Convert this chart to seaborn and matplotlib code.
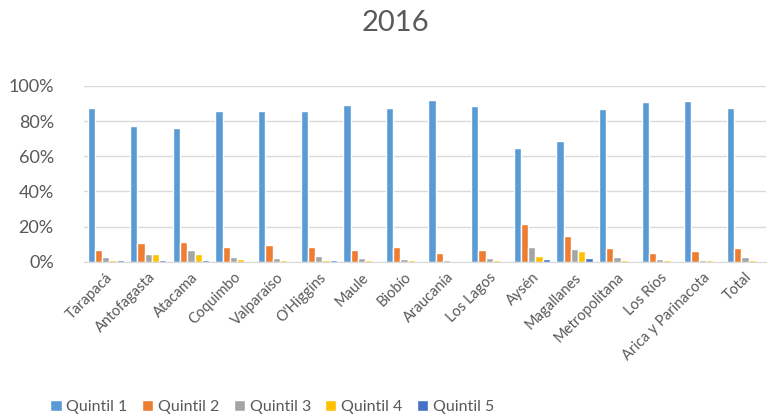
import pandas as pd
import numpy as np
import seaborn as sns
import matplotlib.pyplot as plt

regiones = ['Tarapacá', 'Antofagasta', 'Atacama', 'Coquimbo', 'Valparaíso', "O'Higgins",
            'Maule', 'Biobío', 'Araucanía', 'Los Lagos', 'Aysén', 'Magallanes',
            'Metropolitana', 'Los Ríos', 'Arica y Parinacota', 'Total']
quintiles = ['Quintil 1', 'Quintil 2', 'Quintil 3', 'Quintil 4', 'Quintil 5']

# porcentajes por quintil
q1 = [87.3, 77.4, 75.9, 85.6, 86.0, 85.8, 89.0, 87.3, 92.0, 88.8, 64.5, 68.9, 86.7, 91.1, 91.5, 87.3]
q2 = [6.6, 11.0, 11.4, 8.5, 9.5, 8.2, 6.8, 8.2, 5.3, 6.6, 21.8, 14.8, 8.0, 5.3, 5.9, 8.0]
q3 = [2.8, 4.4, 6.6, 2.8, 2.3, 3.4, 2.3, 1.9, 0.8, 2.3, 8.2, 7.2, 2.8, 1.9, 0.8, 2.5]
q4 = [0.9, 4.7, 4.2, 1.5, 1.3, 0.9, 0.9, 0.9, 0.6, 0.9, 3.4, 6.1, 0.9, 0.9, 0.8, 1.1]
q5 = [0.8, 1.3, 0.9, 0.6, 0.6, 0.9, 0.4, 0.4, 0.4, 0.4, 1.5, 2.3, 0.4, 0.4, 0.4, 0.6]

colores = ['#5B9BD5', '#ED7D31', '#A5A5A5', '#FFC000', '#4472C4']

df = pd.DataFrame({'region': regiones, 'Quintil 1': q1, 'Quintil 2': q2,
                   'Quintil 3': q3, 'Quintil 4': q4, 'Quintil 5': q5})
long_df = df.melt(id_vars='region', var_name='quintil', value_name='pct')

sns.set_style('white')
plt.rcParams['font.family'] = ['Lato', 'DejaVu Sans']
gris = '#595959'

fig = plt.figure(figsize=(7.67, 4.19), dpi=100)
ax = fig.add_axes([0.110, 0.375, 0.889, 0.42])

sns.barplot(data=long_df, x='region', y='pct', hue='quintil', hue_order=quintiles,
            palette=colores, width=0.85, saturation=1, ax=ax, legend=True)

ax.set_ylim(0, 100)
ax.set_xlim(-0.5, len(regiones) - 0.5)
ax.set_yticks(np.arange(0, 101, 20))
ax.set_yticklabels([f'{v}%' for v in range(0, 101, 20)], fontsize=13, color=gris)
ax.set_xticks(range(len(regiones)))
ax.set_xticklabels(regiones, rotation=45, ha='right', rotation_mode='anchor',
                   fontsize=10.5, color=gris)
ax.tick_params(axis='y', length=0, pad=22)
ax.tick_params(axis='x', length=0, pad=6)
ax.set_xlabel('')
ax.set_ylabel('')
ax.grid(axis='y', color='#D9D9D9', linewidth=1)
ax.set_axisbelow(True)
for s in ['top', 'right', 'left']:
    ax.spines[s].set_visible(False)
ax.spines['bottom'].set_color('#D9D9D9')

fig.text(0.515, 0.945, '2016', ha='center', va='center', fontsize=21, color=gris)

handles, labels = ax.get_legend_handles_labels()
ax.get_legend().remove()
fig.legend(handles, labels, loc='center', bbox_to_anchor=(0.355, 0.028), ncol=5,
           frameon=False, fontsize=11.5, handlelength=0.7, handleheight=0.7,
           handletextpad=0.3, columnspacing=0.9, labelcolor=gris)

fig.savefig('out.png', dpi=100)
